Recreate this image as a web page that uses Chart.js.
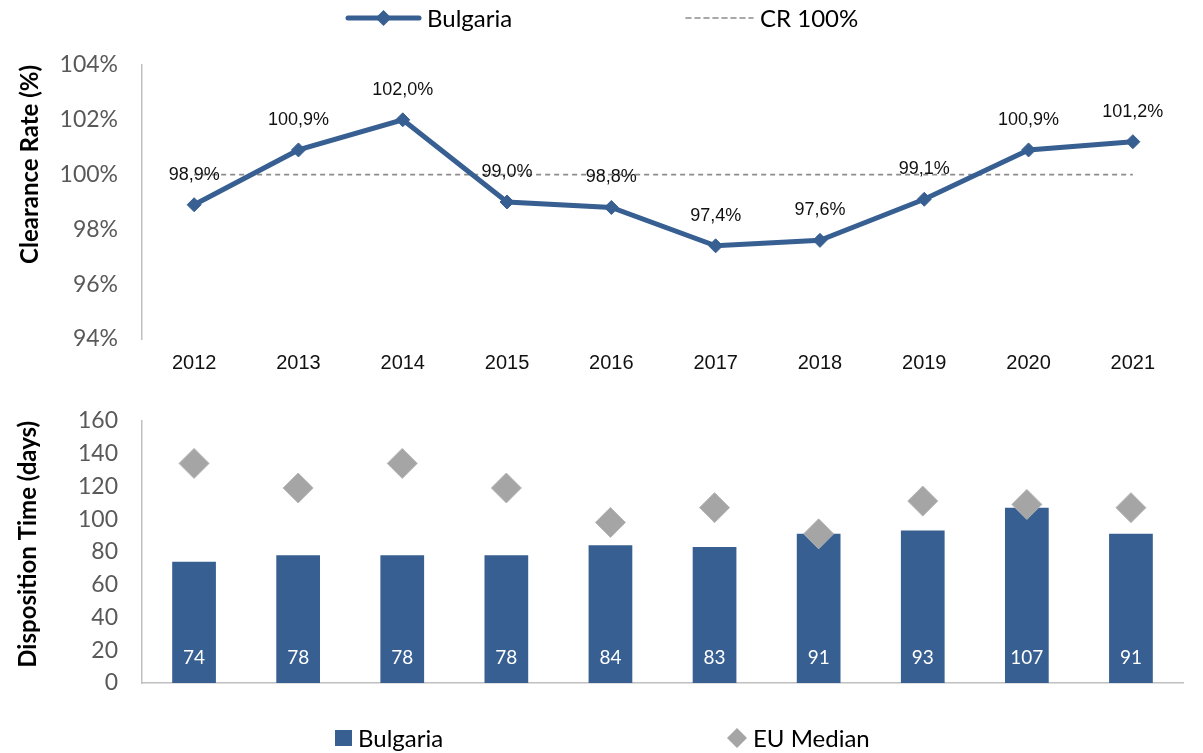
<!DOCTYPE html>
<html>
<head>
<meta charset="utf-8">
<script src="https://cdn.jsdelivr.net/npm/chart.js@4/dist/chart.umd.min.js"></script>
<style>
  html, body { margin: 0; padding: 0; background: #fff; }
  #wrap { position: relative; width: 1203px; height: 753px; }
  #c1 { position: absolute; left: 0; top: 0; }
  #c2 { position: absolute; left: 0; top: 383px; }
</style>
</head>
<body>
<div id="wrap">
  <canvas id="c2" width="1203" height="370"></canvas>
  <canvas id="c1" width="1203" height="383"></canvas>
</div>
<script>
// ---------- DATA ----------
const years = ['2012','2013','2014','2015','2016','2017','2018','2019','2020','2021'];
const clearanceRate = [98.9, 100.9, 102.0, 99.0, 98.8, 97.4, 97.6, 99.1, 100.9, 101.2];
const crReference = [100, 100, 100, 100, 100, 100, 100, 100, 100, 100];
const dispositionTime = [74, 78, 78, 78, 84, 83, 91, 93, 107, 91];
const euMedian = [134, 119, 134, 119, 98, 107, 91, 111, 109, 107];
const crTicks = [94, 96, 98, 100, 102, 104];
const dtTicks = [0, 20, 40, 60, 80, 100, 120, 140, 160];

// ---------- STYLE ----------
const BLUE = '#375f91';
const GREY = '#a5a5a5';
const DASH = '#8c8c8c';
const TICK_GREY = '#595959';
const AXIS_GREY = '#c0c0c0';
const CAL = 'Lato, "Open Sans", sans-serif';
const ARIAL = '"Liberation Sans", Arial, sans-serif';

function fmtPct(v) { return v.toFixed(1).replace('.', ',') + '%'; }

// Custom legend plugin (draws items at fixed spots)
function legendPlugin(items, y) {
  return {
    id: 'customLegend',
    afterDraw(chart) {
      const ctx = chart.ctx;
      ctx.save();
      items.forEach(it => {
        const ds = chart.data.datasets[it.ds];
        if (it.kind === 'line') {
          ctx.strokeStyle = ds.borderColor;
          ctx.lineWidth = ds.borderWidth;
          ctx.lineCap = 'round';
          ctx.setLineDash([]);
          ctx.beginPath(); ctx.moveTo(it.x0, y); ctx.lineTo(it.x1, y); ctx.stroke();
          const cx = (it.x0 + it.x1) / 2, r = 8;
          ctx.fillStyle = ds.borderColor;
          ctx.beginPath(); ctx.moveTo(cx, y - r); ctx.lineTo(cx + r, y); ctx.lineTo(cx, y + r); ctx.lineTo(cx - r, y); ctx.closePath(); ctx.fill();
        } else if (it.kind === 'dash') {
          ctx.strokeStyle = ds.borderColor;
          ctx.lineWidth = ds.borderWidth;
          ctx.setLineDash(ds.borderDash);
          ctx.beginPath(); ctx.moveTo(it.x0, y); ctx.lineTo(it.x1, y); ctx.stroke();
          ctx.setLineDash([]);
        } else if (it.kind === 'box') {
          ctx.fillStyle = ds.backgroundColor;
          ctx.fillRect(it.x0, y - 8, it.x1 - it.x0, 16);
        } else if (it.kind === 'diamond') {
          const cx = (it.x0 + it.x1) / 2, r = 10;
          ctx.fillStyle = ds.pointBackgroundColor;
          ctx.beginPath(); ctx.moveTo(cx, y - r); ctx.lineTo(cx + r, y); ctx.lineTo(cx, y + r); ctx.lineTo(cx - r, y); ctx.closePath(); ctx.fill();
        }
        ctx.fillStyle = '#000';
        ctx.font = '24px ' + CAL;
        ctx.textBaseline = 'middle';
        ctx.textAlign = 'left';
        ctx.fillText(ds.label, it.tx, y + 1);
      });
      ctx.restore();
    }
  };
}

// Data labels for top chart
const pctLabels = {
  id: 'pctLabels',
  afterDatasetsDraw(chart) {
    const meta = chart.getDatasetMeta(0);
    const ctx = chart.ctx;
    ctx.save();
    ctx.font = '18px ' + ARIAL;
    ctx.fillStyle = '#111';
    ctx.textAlign = 'center';
    ctx.textBaseline = 'middle';
    meta.data.forEach((pt, i) => {
      ctx.fillText(fmtPct(clearanceRate[i]), pt.x, pt.y - 30);
    });
    ctx.restore();
  }
};

// Value labels inside bars
const barLabels = {
  id: 'barLabels',
  afterDatasetsDraw(chart) {
    const meta = chart.getDatasetMeta(0);
    const yScale = chart.scales.y;
    const base = yScale.getPixelForValue(0);
    const ctx = chart.ctx;
    ctx.save();
    ctx.font = '19px ' + CAL;
    ctx.fillStyle = '#fff';
    ctx.textAlign = 'center';
    ctx.textBaseline = 'middle';
    meta.data.forEach((bar, i) => {
      ctx.fillText(String(dispositionTime[i]), bar.x, base - 25);
    });
    ctx.restore();
  }
};

// ---------- TOP CHART ----------
new Chart(document.getElementById('c1'), {
  type: 'line',
  data: {
    labels: years,
    datasets: [
      {
        label: 'Bulgaria',
        data: clearanceRate,
        borderColor: BLUE,
        backgroundColor: BLUE,
        borderWidth: 5,
        pointStyle: 'rectRot',
        pointRadius: 7,
        pointBackgroundColor: BLUE,
        pointBorderColor: BLUE,
        pointBorderWidth: 1,
        tension: 0,
        order: 1
      },
      {
        label: 'CR 100%',
        data: crReference,
        borderColor: DASH,
        borderWidth: 1.6,
        borderDash: [5, 4],
        pointRadius: 0,
        tension: 0,
        order: 2
      }
    ]
  },
  options: {
    responsive: false,
    animation: false,
    layout: { padding: { top: 65, right: 18, left: 0, bottom: 0 } },
    plugins: { legend: { display: false }, tooltip: { enabled: false } },
    scales: {
      x: {
        offset: true,
        grid: { display: false, drawTicks: false },
        border: { display: false },
        ticks: { font: { family: ARIAL, size: 20 }, color: '#111', padding: 12, maxRotation: 0 },
        afterFit(s) { s.height = 44; }
      },
      y: {
        min: 94, max: 104,
        afterBuildTicks(s) { s.ticks = crTicks.map(v => ({ value: v })); },
        grid: { display: false, drawTicks: false },
        border: { display: true, color: AXIS_GREY, width: 1.5 },
        ticks: { font: { family: CAL, size: 23 }, color: TICK_GREY, padding: 24, callback: v => v + '%' },
        title: { display: true, text: 'Clearance Rate (%)', align: 'end', font: { family: CAL, size: 24, weight: 'bold' }, color: '#000', padding: { top: 16, bottom: 0 } },
        afterFit(s) { s.width = 142; }
      }
    }
  },
  plugins: [pctLabels, legendPlugin([
    { ds: 0, kind: 'line', x0: 348, x1: 419, tx: 427 },
    { ds: 1, kind: 'dash', x0: 686, x1: 753, tx: 760 }
  ], 18)]
});

// ---------- BOTTOM CHART ----------
new Chart(document.getElementById('c2'), {
  type: 'bar',
  data: {
    labels: years,
    datasets: [
      {
        type: 'bar',
        label: 'Bulgaria',
        data: dispositionTime,
        backgroundColor: BLUE,
        borderWidth: 0,
        categoryPercentage: 1,
        barPercentage: 0.42,
        order: 2
      },
      {
        type: 'line',
        label: 'EU Median',
        data: euMedian,
        showLine: false,
        pointStyle: 'rectRot',
        pointRadius: 15,
        pointBackgroundColor: GREY,
        pointBorderColor: '#b5b5b5',
        pointBorderWidth: 1,
        order: 1
      }
    ]
  },
  options: {
    responsive: false,
    animation: false,
    layout: { autoPadding: false, padding: { top: 30, right: 20, left: 0, bottom: 0 } },
    plugins: { legend: { display: false }, tooltip: { enabled: false } },
    scales: {
      x: {
        offset: true,
        grid: { display: false, drawTicks: false },
        border: { display: true, color: AXIS_GREY, width: 1.5 },
        ticks: { display: false },
        afterFit(s) { s.height = 70; }
      },
      y: {
        min: 0, max: 160,
        afterBuildTicks(s) { s.ticks = dtTicks.map(v => ({ value: v })); },
        grid: { display: false, drawTicks: false },
        border: { display: true, color: AXIS_GREY, width: 1.5 },
        ticks: { font: { family: CAL, size: 23 }, color: TICK_GREY, padding: 24 },
        title: { display: true, text: 'Disposition Time (days)', align: 'end', font: { family: CAL, size: 24, weight: 'bold' }, color: '#000', padding: { top: 14, bottom: 0 } },
        afterFit(s) { s.width = 142; }
      }
    }
  },
  plugins: [barLabels, legendPlugin([
    { ds: 0, kind: 'box', x0: 335, x1: 352, tx: 358 },
    { ds: 1, kind: 'diamond', x0: 727, x1: 747, tx: 753 }
  ], 355)]
});
</script>
</body>
</html>
